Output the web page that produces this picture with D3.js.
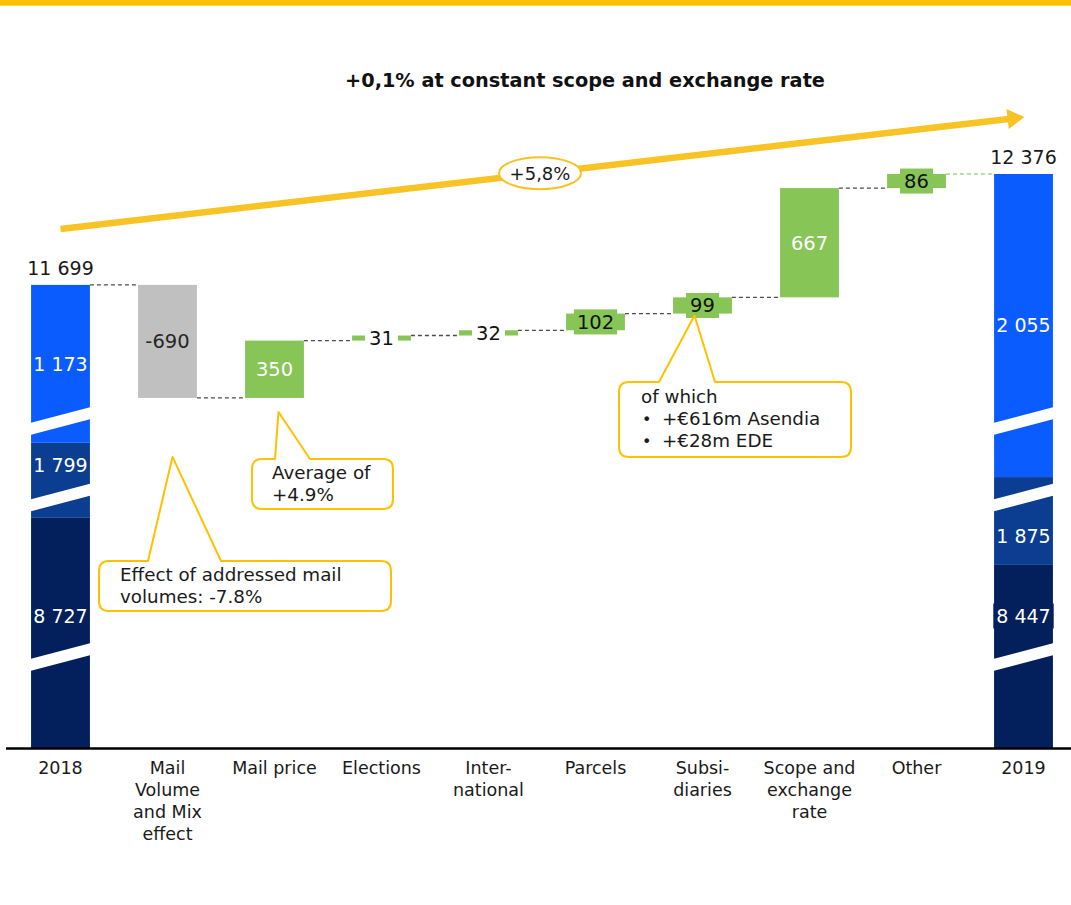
<!DOCTYPE html>
<html>
<head>
<meta charset="utf-8">
<script src="https://cdn.jsdelivr.net/npm/d3@7"></script>
<style>
  html, body { margin: 0; padding: 0; background: #ffffff; }
  svg { display: block; font-family: "DejaVu Sans", "Noto Sans", sans-serif; }
</style>
</head>
<body>
<svg id="chart" width="1071" height="905"></svg>
<script>
// ---- Data -------------------------------------------------------------
const categories = ["2018", "Mail Volume and Mix effect", "Mail price", "Elections",
  "International", "Parcels", "Subsidiaries", "Scope and exchange rate", "Other", "2019"];
const categoryLines = [["2018"], ["Mail", "Volume", "and Mix", "effect"], ["Mail price"],
  ["Elections"], ["Inter-", "national"], ["Parcels"], ["Subsi-", "diaries"],
  ["Scope and", "exchange", "rate"], ["Other"], ["2019"]];
const startTotal = 11699;
const endTotal = 12376;
const changes = [-690, 350, 31, 32, 102, 99, 667, 86];   // Mail Volume .. Other
const startSegments = [8727, 1799, 1173];                // bottom -> top
const endSegments = [8447, 1875, 2055];
const titleText = "+0,1% at constant scope and exchange rate";
const growthText = "+5,8%";
const volumeNote = ["Effect of addressed mail", "volumes: -7.8%"];
const priceNote = ["Average of", "+4.9%"];
const subsidiaryNote = ["of which", "+€616m Asendia", "+€28m EDE"];

// ---- Setup ------------------------------------------------------------
const W = 1071, H = 905;
const baseline = 748;
const svg = d3.select("#chart");

const fmt = d3.formatLocale({ decimal: ",", thousands: " ", grouping: [3],
  currency: ["", ""], minus: "-" }).format(",d");

const x = d3.scaleBand().domain(categories).range([7, 1077])
  .paddingInner(0.45).paddingOuter(0.225);
const bw = x.bandwidth();
const cx = c => x(c) + bw / 2;

// broken value axis: the baseline stands for 8 872, not zero
const y = d3.scaleLinear().domain([8872, endTotal]).range([baseline, 174]);

const C = {
  yellow: "#FFC000", arrow: "#F7C325", green: "#88C557", grey: "#C0C0C0",
  blue: ["#03205D", "#0B3D90", "#0A5CFF"], text: "#1a1a1a", dash: "#4d4d4d"
};

// layers
const gBack = svg.append("g");     // callout fills sit under the bars
const gMain = svg.append("g");
const gFront = svg.append("g");    // callout outlines and text

// top rule
gMain.append("rect").attr("x", 0).attr("y", 0).attr("width", W).attr("height", 5.7)
  .attr("fill", C.yellow);

// title
gMain.append("text").attr("x", 585).attr("y", 80).attr("dy", "0.35em")
  .attr("text-anchor", "middle").attr("font-weight", "bold").attr("font-size", 19.3)
  .attr("fill", "#111").text(titleText);

// ---- Total bars (stacked, with scale breaks) --------------------------
const stackShare = { start: [0.497, 0.659], end: [0.319, 0.472] };
const breakOffsets = [91, 250.5, 327];   // px above baseline, at bar middle
const breakRise = 16, breakHalf = 6;

function drawTotal(cat, segs, shares, total, boxedBase) {
  const top = y(total);
  const span = baseline - top;
  const cum = d3.cumsum(segs);
  const seg = d3.scaleLinear()
    .domain([0, cum[0], cum[1], total])
    .range([baseline, baseline - shares[0] * span, baseline - shares[1] * span, top]);
  const g = gMain.append("g");
  const x0 = x(cat);
  const bounds = segs.map((v, i) => ({ v, i, lo: i === 0 ? 0 : cum[i - 1], hi: i === 2 ? total : cum[i] }));
  g.selectAll("rect").data(bounds).join("rect")
    .attr("x", x0).attr("width", bw)
    .attr("y", d => seg(d.hi)).attr("height", d => seg(d.lo) - seg(d.hi))
    .attr("fill", d => C.blue[d.i]);
  // break marks
  g.selectAll("path.brk").data(breakOffsets).join("path").attr("class", "brk")
    .attr("fill", "#fff")
    .attr("d", off => {
      const m = baseline - off;
      const l = m + breakRise / 2, r = m - breakRise / 2;
      return `M${x0 - 1},${l - breakHalf}L${x0 + bw + 1},${r - breakHalf}` +
             `L${x0 + bw + 1},${r + breakHalf}L${x0 - 1},${l + breakHalf}Z`;
    });
  // segment labels
  bounds.forEach(d => {
    const yHi = seg(d.hi), yLo = seg(d.lo);
    let ly;
    if (d.i === 2) ly = (yHi + yLo) / 2;
    else if (d.i === 0) ly = baseline - 132;
    else {
      const b = baseline - breakOffsets[1];
      const upper = [yHi, b - breakHalf], lower = [b + breakHalf, yLo];
      ly = (upper[1] - upper[0] > lower[1] - lower[0]) ? (upper[0] + upper[1]) / 2 - 2 : (lower[0] + lower[1]) / 2 + 2;
    }
    const t = g.append("text").attr("x", cx(cat)).attr("y", ly).attr("dy", "0.35em")
      .attr("text-anchor", "middle").attr("font-size", 19).attr("fill", "#fff")
      .text(fmt(d.v));
    if (d.i === 0 && boxedBase) {
      const w = t.node().getComputedTextLength();
      g.insert("rect", "text:last-of-type")
        .attr("x", cx(cat) - w / 2 - 3).attr("y", ly - 12.5)
        .attr("width", w + 6).attr("height", 25).attr("fill", C.blue[0]);
      t.raise();
    }
  });
  gMain.append("text").attr("x", cx(cat)).attr("y", top - 17).attr("dy", "0.35em")
    .attr("text-anchor", "middle").attr("font-size", 19).attr("fill", C.text)
    .text(fmt(total));
}
drawTotal(categories[0], startSegments, stackShare.start, startTotal, false);
drawTotal(categories[9], endSegments, stackShare.end, endTotal, true);

// ---- Change bars --------------------------------------------------------
let level = startTotal;
const steps = changes.map((v, i) => {
  const from = level; level += v;
  return { cat: categories[i + 1], v, from, to: level };
});
const levels = [startTotal, ...steps.map(d => d.to)];

// connectors
levels.forEach((lv, i) => {
  const last = i === levels.length - 1;
  gMain.append("line")
    .attr("x1", x(categories[i]) + bw).attr("x2", x(categories[i + 1]))
    .attr("y1", y(lv)).attr("y2", y(lv))
    .attr("stroke", last ? "#A6D486" : C.dash)
    .attr("stroke-width", 1.3).attr("stroke-dasharray", "4,3");
});

const gSteps = gMain.append("g");
steps.forEach(d => {
  const yTop = y(Math.max(d.from, d.to)), yBot = y(Math.min(d.from, d.to));
  const h = yBot - yTop;
  gSteps.append("rect").attr("x", x(d.cat)).attr("width", bw)
    .attr("y", yTop).attr("height", h)
    .attr("fill", d.v < 0 ? C.grey : C.green);
  const mid = (yTop + yBot) / 2;
  const t = gSteps.append("text").attr("x", cx(d.cat)).attr("y", mid).attr("dy", "0.35em")
    .attr("text-anchor", "middle").attr("font-size", 19.5).text(fmt(d.v));
  if (h > 30) {
    t.attr("fill", d.v < 0 ? "#262626" : "#fff");
  } else {
    t.attr("fill", "#111");
    const w = t.node().getComputedTextLength();
    const bgW = Math.max(w + 6, 33);
    gSteps.insert("rect", "text:last-of-type")
      .attr("x", cx(d.cat) - bgW / 2).attr("y", mid - 12.5)
      .attr("width", bgW).attr("height", 25)
      .attr("fill", h < 10 ? "#fff" : C.green);
    t.raise();
  }
});

// ---- Axis -----------------------------------------------------------------
gMain.append("line").attr("x1", 6).attr("x2", W).attr("y1", baseline + 0.5).attr("y2", baseline + 0.5)
  .attr("stroke", "#000").attr("stroke-width", 2.6);
const gLab = gMain.append("g").attr("font-size", 17.5).attr("fill", C.text).attr("text-anchor", "middle");
categories.forEach((c, i) => {
  const t = gLab.append("text").attr("x", cx(c)).attr("y", 768).attr("dy", "0.35em");
  categoryLines[i].forEach((ln, j) => {
    t.append("tspan").attr("x", cx(c)).attr("dy", j === 0 ? "0.35em" : 22).text(ln);
  });
});

// ---- Growth arrow ------------------------------------------------------------
const a0 = [cx(categories[0]), y(startTotal) - 56];
const a1 = [cx(categories[9]) + 1, y(endTotal) - 57];
const ang = Math.atan2(a1[1] - a0[1], a1[0] - a0[0]);
const headL = 17, headW = 10;
const hb = [a1[0] - headL * Math.cos(ang), a1[1] - headL * Math.sin(ang)];
gMain.append("line").attr("x1", a0[0]).attr("y1", a0[1]).attr("x2", hb[0] + 1).attr("y2", hb[1])
  .attr("stroke", C.arrow).attr("stroke-width", 6.5);
gMain.append("path").attr("fill", C.arrow)
  .attr("d", `M${a1[0]},${a1[1]}L${hb[0] - headW * Math.sin(ang)},${hb[1] + headW * Math.cos(ang)}` +
             `L${hb[0] + headW * Math.sin(ang)},${hb[1] - headW * Math.cos(ang)}Z`);
const em = [540, a0[1] + (540 - a0[0]) * Math.tan(ang)];
gMain.append("ellipse").attr("cx", em[0]).attr("cy", em[1]).attr("rx", 41).attr("ry", 16)
  .attr("fill", "#fff").attr("stroke", C.arrow).attr("stroke-width", 2);
gMain.append("text").attr("x", em[0]).attr("y", em[1]).attr("dy", "0.35em")
  .attr("text-anchor", "middle").attr("font-size", 18).attr("fill", C.text).text(growthText);

// ---- Callouts ------------------------------------------------------------------
function callout(box, base, tip) {
  const { x0, y0, x1, y1 } = box, r = 10;
  const p = `M${base[0]},${y0}L${tip[0]},${tip[1]}L${base[1]},${y0}` +
    `L${x1 - r},${y0}Q${x1},${y0} ${x1},${y0 + r}L${x1},${y1 - r}Q${x1},${y1} ${x1 - r},${y1}` +
    `L${x0 + r},${y1}Q${x0},${y1} ${x0},${y1 - r}L${x0},${y0 + r}Q${x0},${y0} ${x0 + r},${y0}Z`;
  gBack.append("path").attr("d", p).attr("fill", "#fff");
  gFront.append("path").attr("d", p).attr("fill", "none")
    .attr("stroke", C.yellow).attr("stroke-width", 2).attr("stroke-linejoin", "round");
}
function lines(arr, x0, y0, bullets) {
  arr.forEach((s, i) => {
    const yy = y0 + i * 22;
    if (bullets && i > 0) {
      gFront.append("text").attr("x", x0 + 1).attr("y", yy).attr("dy", "0.35em")
        .attr("font-size", 16).attr("fill", C.text).text("•");
      gFront.append("text").attr("x", x0 + 21).attr("y", yy).attr("dy", "0.35em")
        .attr("font-size", 18.3).attr("fill", C.text).text(s);
    } else {
      gFront.append("text").attr("x", x0).attr("y", yy).attr("dy", "0.35em")
        .attr("font-size", 18.3).attr("fill", C.text).text(s);
    }
  });
}
const s1 = steps[0], s2 = steps[1], s6 = steps[5];
callout({ x0: 99, y0: 561, x1: 391, y1: 611 }, [148, 221], [cx(s1.cat) + 5, y(s1.to) + 59]);
lines(volumeNote, 120, 575);
callout({ x0: 252, y0: 459, x1: 393, y1: 509 }, [275, 310], [cx(s2.cat) + 4, y(s2.from) + 14]);
lines(priceNote, 272, 473);
callout({ x0: 619, y0: 382, x1: 851, y1: 457 }, [659, 715], [cx(s6.cat) - 8, y(s6.from) + 2]);
lines(subsidiaryNote, 641, 397, true);
</script>
</body>
</html>
